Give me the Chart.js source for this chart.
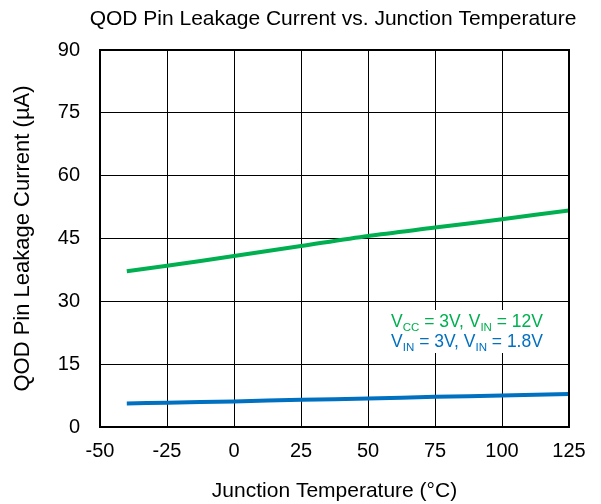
<!DOCTYPE html>
<html>
<head>
<meta charset="utf-8">
<script src="https://cdn.jsdelivr.net/npm/chart.js@4"></script>
<style>
  html, body { margin: 0; padding: 0; background: #fff; }
  #wrap { width: 601px; height: 504px; }
</style>
</head>
<body>
<div id="wrap"><canvas id="grafico" width="601" height="504"></canvas></div>
<script>
// temperature (°C) and leakage current (µA)
var temperature = [-40, -25, 0, 25, 50, 75, 100, 125];
var correnteVcc3Vin12 = [37.2, 38.5, 40.8, 43.2, 45.6, 47.6, 49.6, 51.7];
var correnteVin3Vin18 = [5.6, 5.8, 6.1, 6.5, 6.8, 7.2, 7.5, 7.9];
var xTicks = [-50, -25, 0, 25, 50, 75, 100, 125];
var yTicks = [0, 15, 30, 45, 60, 75, 90];
var titolo = "QOD Pin Leakage Current vs. Junction Temperature";

var verde = "#00b050";
var blu = "#0070c0";
var font = "Arial, 'Liberation Sans', sans-serif";

function punti(xs, ys){
    var out = [];
    for(let i = 0; i < xs.length; i++){
        out.push({x: xs[i], y: ys[i]});
    }
    return out;
}

// title, legend inside the plot (with subscripts) and the frame
var decorazioni = {
    id: 'decorazioni',
    afterDatasetsDraw: function(chart){
        var ctx = chart.ctx;
        var righe = [
            {color: verde, parti: [["V",0],["CC",1],[" = 3V, V",0],["IN",1],[" = 12V",0]]},
            {color: blu, parti: [["V",0],["IN",1],[" = 3V, V",0],["IN",1],[" = 1.8V",0]]}
        ];
        var cx = 467, y0 = 327, passo = 20;
        ctx.save();
        ctx.fillStyle = "#fff";
        ctx.fillRect(386, 310, 164, 43);
        righe.forEach(function(r, k){
            var w = 0;
            r.parti.forEach(function(p){
                ctx.font = (p[1] ? "11.5px " : "17.5px ") + font;
                w += ctx.measureText(p[0]).width;
            });
            var x = cx - w / 2;
            var y = y0 + k * passo;
            ctx.fillStyle = r.color;
            ctx.textBaseline = "alphabetic";
            r.parti.forEach(function(p){
                ctx.font = (p[1] ? "11.5px " : "17.5px ") + font;
                ctx.fillText(p[0], x, y + (p[1] ? 4 : 0));
                x += ctx.measureText(p[0]).width;
            });
        });
        ctx.restore();
    },
    afterDraw: function(chart){
        var a = chart.chartArea;
        var ctx = chart.ctx;
        ctx.save();
        ctx.strokeStyle = "#000";
        ctx.lineWidth = 2;
        ctx.strokeRect(a.left, a.top, a.right - a.left, a.bottom - a.top);
        ctx.fillStyle = "#000";
        ctx.font = "21px " + font;
        ctx.textAlign = "center";
        ctx.textBaseline = "middle";
        ctx.fillText(titolo, 333, 19);
        ctx.restore();
    }
};

var ctx = document.getElementById("grafico");
var myChart = new Chart(ctx, {
    type: 'line',
    data: {
        datasets: [
            {
                label: "VCC = 3V, VIN = 12V",
                data: punti(temperature, correnteVcc3Vin12),
                borderColor: verde,
                backgroundColor: verde,
                borderWidth: 4,
                pointRadius: 0,
                tension: 0.3
            },
            {
                label: "VIN = 3V, VIN = 1.8V",
                data: punti(temperature, correnteVin3Vin18),
                borderColor: blu,
                backgroundColor: blu,
                borderWidth: 4,
                pointRadius: 0,
                tension: 0.3
            }
        ]
    },
    options: {
        responsive: false,
        animation: false,
        layout: { padding: { left: 10, right: 32, top: 50, bottom: 0 } },
        plugins: {
            legend: { display: false },
            tooltip: { enabled: false },
            title: { display: false }
        },
        scales: {
            x: {
                type: 'linear',
                min: -50,
                max: 125,
                afterBuildTicks: function(s){ s.ticks = xTicks.map(v => ({value: v})); },
                afterFit: function(s){ s.height = 504 - 427; },
                grid: { color: "#000", lineWidth: 1, drawTicks: false },
                border: { color: "#000", width: 2 },
                ticks: { color: "#000", padding: 12, font: { family: font, size: 20 } },
                title: {
                    display: true,
                    text: "Junction Temperature (°C)",
                    color: "#000",
                    font: { family: font, size: 21 },
                    padding: { top: 0, bottom: 0 }
                }
            },
            y: {
                min: 0,
                max: 90,
                afterBuildTicks: function(s){ s.ticks = yTicks.map(v => ({value: v})); },
                afterFit: function(s){ s.width = 100 - 10; },
                grid: { color: "#000", lineWidth: 1, drawTicks: false },
                border: { color: "#000", width: 2 },
                ticks: { color: "#000", padding: 20, font: { family: font, size: 20 } },
                title: {
                    display: true,
                    text: "QOD Pin Leakage Current (µA)",
                    color: "#000",
                    font: { family: font, size: 22 },
                    padding: { top: 0, bottom: 0 }
                }
            }
        }
    },
    plugins: [decorazioni]
});
</script>
</body>
</html>
